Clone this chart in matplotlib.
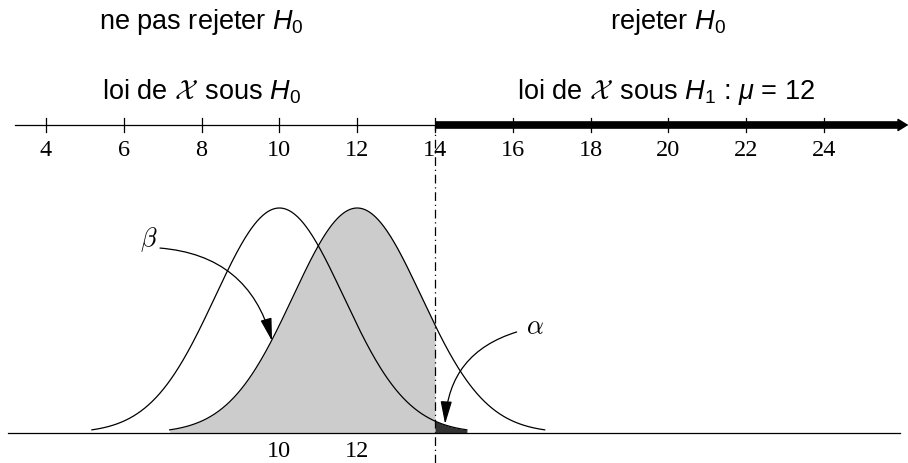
import numpy as np
import matplotlib
matplotlib.use("Agg")
import matplotlib.pyplot as plt

plt.rcParams['font.family'] = ['Liberation Sans', 'DejaVu Sans']
plt.rcParams['mathtext.fontset'] = 'custom'
plt.rcParams['mathtext.rm'] = 'Liberation Sans'
plt.rcParams['mathtext.it'] = 'Liberation Sans:italic'
plt.rcParams['mathtext.cal'] = 'cmsy10'

# donnees
mu0 = 10
mu1 = 12
sigma = 1.65
demi_largeur = 4.82
seuil = 14
graduations = [4, 6, 8, 10, 12, 14, 16, 18, 20, 22, 24]
labels_bas = [10, 12]

fig = plt.figure(figsize=(9.08, 4.64), dpi=100)
ax = fig.add_axes([0, 0, 1, 1])
ax.set_xlim(2.817, 26.16)
ax.set_ylim(-0.1333, 1.9289)
ax.axis('off')

y_axe = 1.369

# axe gradue
ax.plot([3.203, seuil], [y_axe, y_axe], color='black', lw=0.9)
ax.plot([seuil, 25.9], [y_axe, y_axe], color='black', lw=5.5, solid_capstyle='butt')
ax.annotate('', xy=(26.17, y_axe), xytext=(25.7, y_axe),
            arrowprops=dict(arrowstyle='-|>,head_length=0.65,head_width=0.4',
                            lw=1, color='black', shrinkA=0, shrinkB=0))
for g in graduations:
    ax.plot([g, g], [y_axe - 0.031, y_axe + 0.031], color='black', lw=0.9)
    ax.text(g, 1.262, str(g), ha='center', va='center',
            family='Liberation Serif', fontsize=17.5)

# courbes
def courbe(mu):
    x = np.linspace(mu - demi_largeur, mu + demi_largeur, 400)
    y = np.exp(-(x - mu) ** 2 / (2 * sigma ** 2))
    return x, y

x0, y0 = courbe(mu0)
x1, y1 = courbe(mu1)

m = x1 <= seuil
ax.fill_between(np.append(x1[m], seuil), 0,
                np.append(y1[m], np.exp(-(seuil - mu1) ** 2 / (2 * sigma ** 2))),
                color='#cccccc', lw=0)
m = x0 >= seuil
ax.fill_between(np.insert(x0[m], 0, seuil), 0,
                np.insert(y0[m], 0, np.exp(-(seuil - mu0) ** 2 / (2 * sigma ** 2))),
                color='#333333', lw=0)

ax.plot(x0, y0, color='black', lw=0.9)
ax.plot(x1, y1, color='black', lw=0.9)

# ligne de base
ax.plot([3.023, 25.95], [0, 0], color='black', lw=0.9)

# seuil
ax.plot([seuil, seuil], [-0.1333, y_axe], color='black', lw=0.9,
        linestyle=(0, (7, 3, 1, 3)))

for v in labels_bas:
    ax.text(v, -0.0756, str(v), ha='center', va='center',
            family='Liberation Serif', fontsize=17.5)

# textes
ax.text(8.0, 1.831, r'ne pas rejeter $H_0$', ha='center', va='center', fontsize=19.5)
ax.text(20.0, 1.831, r'rejeter $H_0$', ha='center', va='center', fontsize=19.5)
ax.text(8.0, 1.52, r'loi de $\mathcal{X}\,$ sous $H_0$', ha='center', va='center', fontsize=19.5)
ax.text(19.95, 1.52, r'loi de $\mathcal{X}\,$ sous $H_1$ : $\mu$ = 12', ha='center', va='center', fontsize=19.5)

# beta et alpha
fleche = dict(arrowstyle='-|>,head_length=1.4,head_width=0.35',
              color='black', lw=0.9, shrinkA=0, shrinkB=0)
ax.text(6.63, 0.862, r'$\beta$', ha='center', va='center', fontsize=19, math_fontfamily='cm')
ax.annotate('', xy=(9.81, 0.409), xytext=(6.93, 0.822),
            arrowprops=dict(fleche, connectionstyle='arc3,rad=-0.35'))
ax.text(16.57, 0.475, r'$\alpha$', ha='center', va='center', fontsize=19, math_fontfamily='cm')
ax.annotate('', xy=(14.26, 0.04), xytext=(16.1, 0.449),
            arrowprops=dict(fleche, connectionstyle='arc3,rad=0.35'))

fig.savefig('out.png', dpi=100)
